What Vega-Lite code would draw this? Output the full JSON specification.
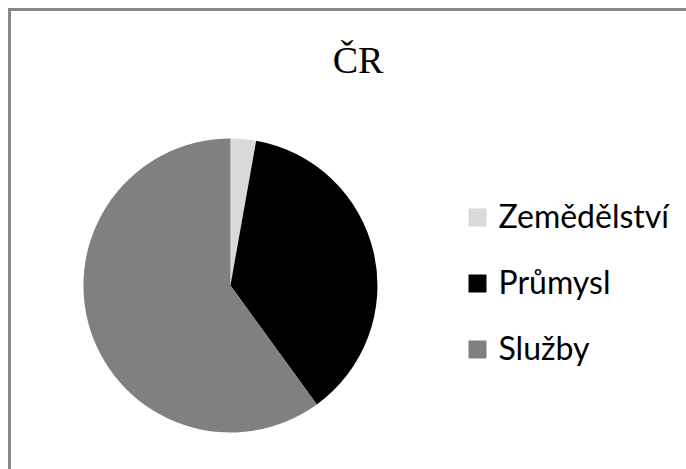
{
  "$schema": "https://vega.github.io/schema/vega-lite/v6.json",
  "autosize": {"type": "none"},
  "width": 697,
  "height": 480,
  "padding": {"left": 9.5, "top": 9.5, "right": -20.5, "bottom": -20.5},
  "background": "white",
  "title": {
    "text": "ČR",
    "font": "Liberation Serif",
    "fontSize": 38,
    "fontWeight": "normal",
    "color": "#000000",
    "anchor": "middle",
    "frame": "group",
    "offset": -73
  },
  "layer": [
    {
      "data": {"values": [{"ramec": 1}]},
      "mark": {"type": "rect", "fill": null, "stroke": "#888888", "strokeWidth": 3},
      "encoding": {}
    },
    {
      "data": {
        "values": [
          {"sektor": "Zemědělství", "podil": 2.8, "poradi": 1},
          {"sektor": "Průmysl", "podil": 37.2, "poradi": 2},
          {"sektor": "Služby", "podil": 60.0, "poradi": 3}
        ]
      },
      "mark": {"type": "arc", "radius": 147, "x": {"expr": "width*0.317"}, "y": {"expr": "height*0.575"}, "stroke": null},
      "encoding": {
        "theta": {"field": "podil", "type": "quantitative", "stack": true},
        "order": {"field": "poradi", "type": "quantitative"},
        "color": {
          "field": "sektor",
          "type": "nominal",
          "sort": ["Zemědělství", "Průmysl", "Služby"],
          "scale": {"domain": ["Zemědělství", "Průmysl", "Služby"], "range": ["#d9d9d9", "#000000", "#808080"]},
          "legend": {
            "title": null,
            "orient": "none",
            "legendX": 452,
            "legendY": 192,
            "symbolType": "square",
            "symbolSize": 324,
            "symbolStrokeWidth": 0,
            "labelFont": "Lato",
            "labelFontSize": 32,
            "labelColor": "#000000",
            "labelOffset": 5,
            "rowPadding": 34,
            "labelLimit": 300
          }
        }
      }
    }
  ]
}
